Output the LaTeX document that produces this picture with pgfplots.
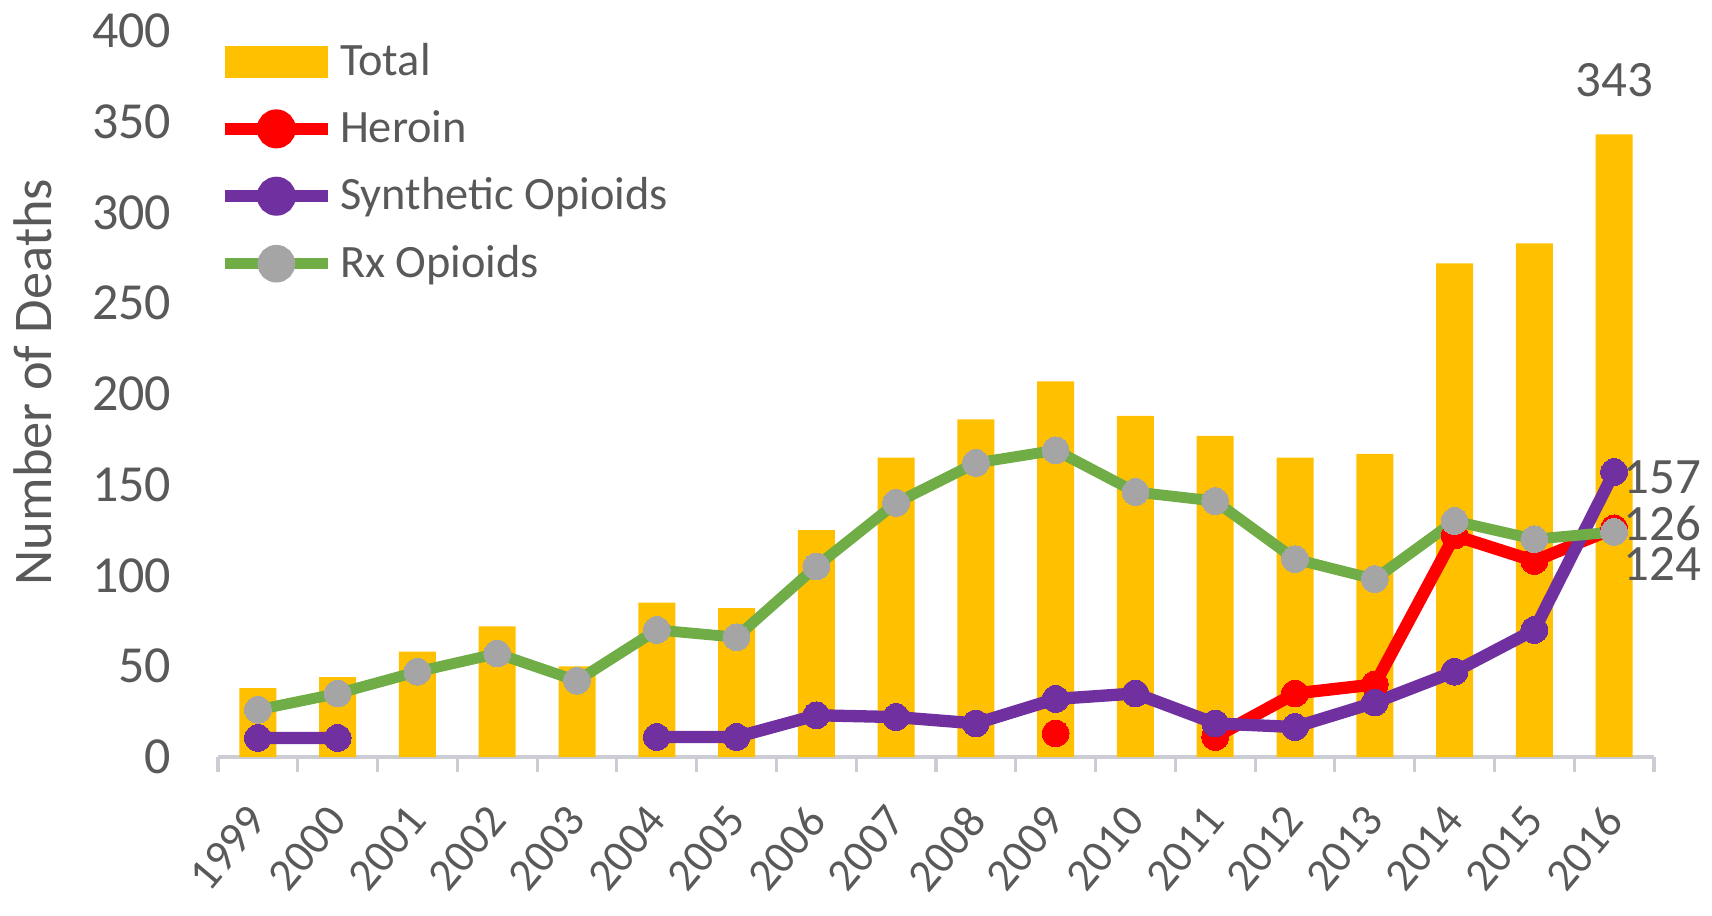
\documentclass[border=0pt]{standalone}
\usepackage{pgfplots}
\pgfplotsset{compat=1.18}
\usepackage{fontspec}
\setmainfont{Carlito}
\definecolor{gold}{HTML}{FFC000}
\definecolor{heroin}{HTML}{FF0000}
\definecolor{synth}{HTML}{7030A0}
\definecolor{rxg}{HTML}{70AD47}
\definecolor{rxm}{HTML}{A5A5A5}
\definecolor{txt}{HTML}{595959}
\definecolor{axg}{HTML}{CCCCD4}
\pgfplotstableread{
x total heroin synth rx
0 38 nan 10.5 26
1 44 nan 10.5 35
2 58 nan nan 47
3 72 nan nan 57
4 50 nan nan 42
5 85 nan 11 70
6 82 nan 11 66
7 125 nan 23 105
8 165 nan 22 140
9 186 nan 18.5 162
10 207 13 32 169
11 188 nan 35 146
12 177 11 18.5 141
13 165 35 16.5 109
14 167 40 30 98
15 272 122 47 130
16 283 108 70 120
17 343 126 157 124
}\datatable
\begin{document}
\begin{tikzpicture}
\path[use as bounding box] (-2.18,-1.58) rectangle (14.94,7.57);
\begin{axis}[
  at={(0,0)}, anchor=south west,
  width=14.36cm, height=7.26cm, scale only axis,
  xmin=-0.5, xmax=17.5, ymin=0, ymax=400,
  clip=false,
  axis x line*=bottom, axis y line*=left,
  y axis line style={draw=none},
  x axis line style={draw=axg, line width=0.9pt, -},
  ytick={0,50,...,400},
  xtick={0,...,17},
  xticklabels={1999,2000,2001,2002,2003,2004,2005,2006,2007,2008,2009,2010,2011,2012,2013,2014,2015,2016},
  major tick length=0pt,
  minor xtick={-0.5,0.5,...,17.5},
  minor x tick style={draw=axg, line width=0.9pt},
  xtick align=outside, minor tick length=0.15cm,
  /pgf/number format/assume math mode=true,
  yticklabel style={font=\fontsize{14.8}{16}\selectfont, text=txt, anchor=east, inner sep=0pt, xshift=-0.46cm},
  xticklabel style={font=\fontsize{13}{14}\selectfont, text=txt, inner sep=0pt, xshift=-0.12cm, yshift=-0.45cm, rotate=50, anchor=north east},
  ylabel={Number of Deaths},
  ylabel style={at={(axis description cs:-0.1288,0.5165)}, rotate=0, anchor=center, font=\fontsize{15.5}{17}\selectfont, text=txt},
  unbounded coords=jump,
  legend style={at={(axis description cs:0.0,0.993)}, anchor=north west, draw=none, fill=none,
    font=\fontsize{13.2}{15}\selectfont, text=txt, row sep=0.18cm, inner sep=0pt,
    nodes={inner sep=0.06cm}},
  legend cell align=left,
]
\addplot[ybar, bar width=0.37cm, fill=gold, draw=none,
  legend image code/.code={\fill[gold] (0cm,-0.16cm) rectangle (1.03cm,0.16cm);}]
  table[x=x, y=total] {\datatable};
\addlegendentry{Total}
\addplot[heroin, line width=3.5pt, mark=*, mark size=3.8pt, mark options={fill=heroin, draw=heroin, line width=0pt},
  legend image code/.code={\draw[heroin, line width=3.5pt] (0cm,0cm) -- (1.03cm,0cm); \fill[heroin] (0.515cm,0cm) circle (3.8pt);}]
  table[x=x, y=heroin] {\datatable};
\addlegendentry{Heroin}
\addplot[synth, line width=3.5pt, mark=*, mark size=3.8pt, mark options={fill=synth, draw=synth, line width=0pt},
  legend image code/.code={\draw[synth, line width=3.5pt] (0cm,0cm) -- (1.03cm,0cm); \fill[synth] (0.515cm,0cm) circle (3.8pt);}]
  table[x=x, y=synth] {\datatable};
\addlegendentry{Synthetic Opioids}
\addplot[rxg, line width=3.1pt, mark=*, mark size=3.8pt, mark options={fill=rxm, draw=rxm, line width=0pt},
  legend image code/.code={\draw[rxg, line width=3.1pt] (0cm,0cm) -- (1.03cm,0cm); \fill[rxm] (0.515cm,0cm) circle (3.8pt);}]
  table[x=x, y=rx] {\datatable};
\addlegendentry{Rx Opioids}
\node[font=\fontsize{14.5}{16}\selectfont, text=txt] at (axis cs:17,373) {343};
\node[font=\fontsize{14.5}{16}\selectfont, text=txt, anchor=west, inner sep=0pt] at (axis cs:17.11,154) {157};
\node[font=\fontsize{14.5}{16}\selectfont, text=txt, anchor=west, inner sep=0pt] at (axis cs:17.11,128.5) {126};
\node[font=\fontsize{14.5}{16}\selectfont, text=txt, anchor=west, inner sep=0pt] at (axis cs:17.11,106.5) {124};
\end{axis}
\end{tikzpicture}
\end{document}
